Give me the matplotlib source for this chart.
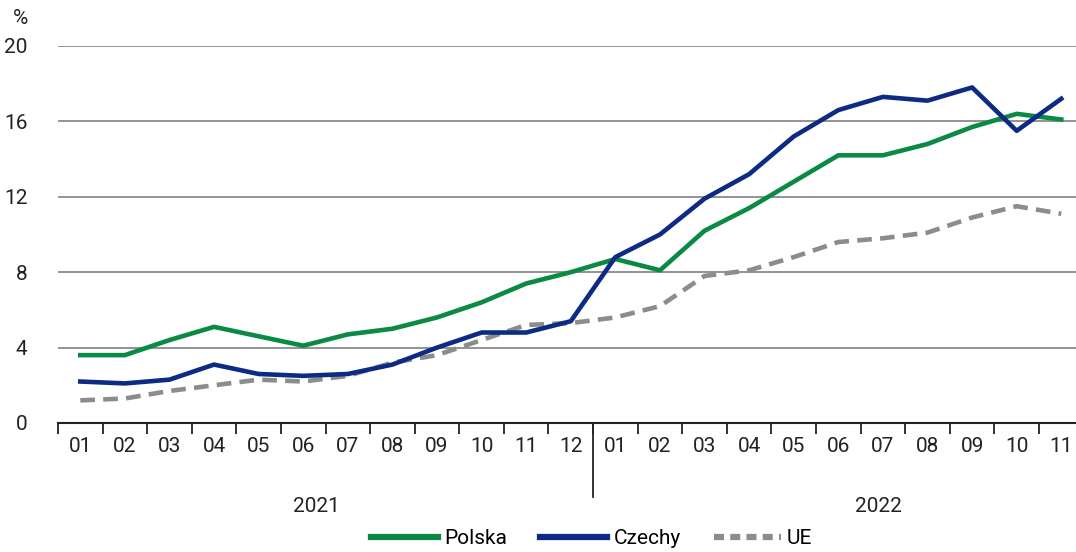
import numpy as np
import matplotlib
matplotlib.use('Agg')
import matplotlib.pyplot as plt
from matplotlib.lines import Line2D

plt.rcParams['font.family'] = ['Roboto', 'DejaVu Sans']

months = ['01', '02', '03', '04', '05', '06', '07', '08', '09', '10', '11', '12',
          '01', '02', '03', '04', '05', '06', '07', '08', '09', '10', '11']
years = ['2021', '2022']

polska = [3.6, 3.6, 4.4, 5.1, 4.6, 4.1, 4.7, 5.0, 5.6, 6.4, 7.4, 8.0,
          8.7, 8.1, 10.2, 11.4, 12.8, 14.2, 14.2, 14.8, 15.7, 16.4, 16.1]
czechy = [2.2, 2.1, 2.3, 3.1, 2.6, 2.5, 2.6, 3.1, 4.0, 4.8, 4.8, 5.4,
          8.8, 10.0, 11.9, 13.2, 15.2, 16.6, 17.3, 17.1, 17.8, 15.5, 17.2]
ue = [1.2, 1.3, 1.7, 2.0, 2.3, 2.2, 2.5, 3.2, 3.6, 4.4, 5.2, 5.3,
      5.6, 6.2, 7.8, 8.1, 8.8, 9.6, 9.8, 10.1, 10.9, 11.5, 11.1]

green = '#0a8a43'
navy = '#0d2a84'
grey = '#8c8c8c'

fig = plt.figure(figsize=(10.76, 5.52), dpi=100)
ax = fig.add_axes([0.0539, 0.2337, 0.9461, 0.683])

x = np.arange(len(months))
ax.plot(x, ue, color=grey, lw=3.3, dashes=(3.2, 1.8), solid_capstyle='butt', zorder=3)
ax.plot(x, polska, color=green, lw=3.3, zorder=4)
ax.plot(x, czechy, color=navy, lw=3.3, zorder=5)

ax.set_ylim(0, 20)
ax.set_xlim(-0.5, 22.33)
ax.set_yticks([0, 4, 8, 12, 16, 20])
ax.yaxis.grid(True, color='#8a8a8a', lw=1.3)
ax.set_axisbelow(True)
ax.tick_params(axis='y', length=0, labelsize=15, pad=22, colors='#222222')

# ticks between categories, labels at centres
ax.set_xticks(np.arange(-0.5, 22, 1))
ax.set_xticklabels([])
ax.set_xticks(x, minor=True)
ax.set_xticklabels(months, minor=True)
ax.tick_params(axis='x', which='major', length=8, width=1.3, color='#222222')
ax.tick_params(axis='x', which='minor', length=0, labelsize=15, pad=10, colors='#222222')

for s in ['left', 'right', 'top']:
    ax.spines[s].set_visible(False)
ax.spines['bottom'].set_linewidth(1.5)
ax.spines['bottom'].set_color('#222222')

# year separator
ax.add_line(Line2D([11.5, 11.5], [0, -0.197], transform=ax.get_xaxis_transform(),
                   color='#222222', lw=1.3, clip_on=False))
ax.text(5.3, -0.222, years[0], transform=ax.get_xaxis_transform(), ha='center', va='center',
        fontsize=15, color='#222222')
ax.text(17.9, -0.222, years[1], transform=ax.get_xaxis_transform(), ha='center', va='center',
        fontsize=15, color='#222222')

fig.text(0.019, 0.967, '%', fontsize=15, ha='center', va='center', color='#222222')

handles = [Line2D([], [], color=green, lw=4.5),
           Line2D([], [], color=navy, lw=4.5),
           Line2D([], [], color=grey, lw=4.5, dashes=(1.6, 1))]
fig.legend(handles, ['Polska', 'Czechy', 'UE'], loc='center', bbox_to_anchor=(0.55, 0.024),
           ncol=3, frameon=False, fontsize=15, handlelength=3.2, handletextpad=0.3,
           columnspacing=1.6)

fig.savefig('out.png', dpi=100)
